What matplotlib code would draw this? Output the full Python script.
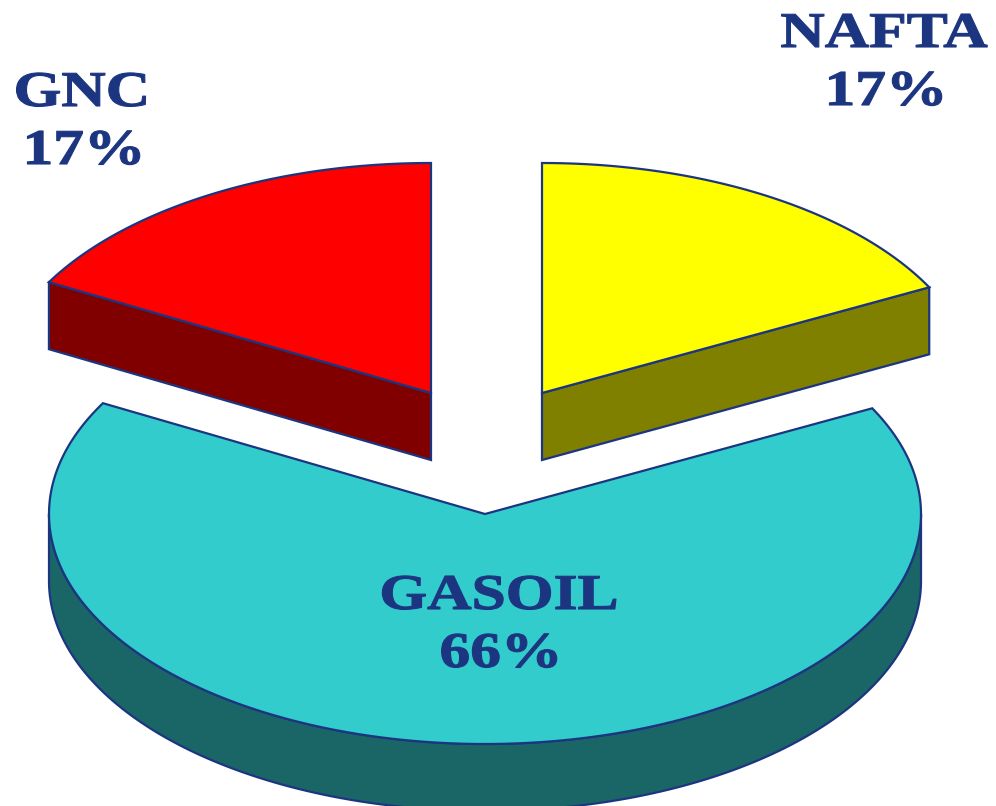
import numpy as np
import matplotlib
matplotlib.use("Agg")
import matplotlib.pyplot as plt
from matplotlib.patches import Polygon
from matplotlib.patheffects import AbstractPathEffect
from matplotlib.transforms import Affine2D

# Data
categories = ["NAFTA", "GASOIL", "GNC"]
shares = [17.4, 65.6, 17.0]

# Style
top_colors = ["#FFFF00", "#33CCCC", "#FF0000"]
side_colors = ["#808000", "#1A6666", "#800000"]
edge = "#1C3580"
centers = [(542, 393), (485, 514), (431, 393)]
label_pos = [(884, 47), (499, 609), (82, 106)]
RX, RY, DEPTH = 436, 230, 67
W, H = 996, 806
WIDEN = 1.23

fig = plt.figure(figsize=(W / 100, H / 100), dpi=100)
ax = fig.add_axes([0, 0, 1, 1])
ax.set_xlim(0, W)
ax.set_ylim(H, 0)
ax.axis("off")


class Widen(AbstractPathEffect):
    """Draw a text's glyphs wider and slightly heavier, about its centre."""

    def __init__(self, cx, sx):
        super().__init__()
        self.cx, self.sx = cx, sx

    def draw_path(self, renderer, gc, tpath, affine, rgbFace=None):
        stretch = Affine2D().translate(-self.cx, 0).scale(self.sx, 1).translate(self.cx, 0)
        gc0 = renderer.new_gc()
        gc0.copy_properties(gc)
        gc0.set_foreground(edge)
        gc0.set_linewidth(0.8)
        renderer.draw_path(gc0, tpath, affine + stretch, rgbFace)
        gc0.restore()


def arc(cx, cy, a0, a1, dy=0, n=240):
    t = np.radians(np.linspace(a0, a1, n))
    return np.column_stack([cx + RX * np.cos(t), cy - RY * np.sin(t) + dy])


def draw_large(c, a_start, a_end, top, side):
    """Front slice: the outer rim on the lower half is the visible side."""
    cx, cy = c
    apex = np.array([[cx, cy]])
    rim = arc(cx, cy, 0, -180)
    ax.add_patch(Polygon(np.vstack([rim, arc(cx, cy, -180, 0, DEPTH)]),
                         closed=True, fc=side, ec=edge, lw=1.6, zorder=2))
    ax.add_patch(Polygon(np.vstack([apex, arc(cx, cy, a_start, a_end)]),
                         closed=True, fc=top, ec=edge, lw=1.6, zorder=3))


def draw_small(c, a_from, a_to, top, side):
    """Upper slice: the straight cut towards the rim is the visible side."""
    cx, cy = c
    apex = np.array([[cx, cy]])
    p = arc(cx, cy, a_to, a_to, n=1)
    quad = np.vstack([apex, p, p + [0, DEPTH], apex + [0, DEPTH]])
    ax.add_patch(Polygon(quad, closed=True, fc=side, ec=edge, lw=1.6, zorder=2))
    ax.add_patch(Polygon(np.vstack([apex, arc(cx, cy, a_from, a_to)]),
                         closed=True, fc=top, ec=edge, lw=1.6, zorder=3))


# Angles run clockwise from the top of the pie
sweep = [s / sum(shares) * 360 for s in shares]
a0 = 90
a1 = a0 - sweep[0]
a2 = a1 - sweep[1]
a3 = a2 - sweep[2]

draw_small(centers[0], a0, a1, top_colors[0], side_colors[0])
draw_large(centers[1], a1, a2, top_colors[1], side_colors[1])
draw_small(centers[2], a3 + 360, a2 + 360, top_colors[2], side_colors[2])

for name, val, (x, y) in zip(categories, shares, label_pos):
    for i, line in enumerate([name, f"{round(val)}%"]):
        tx = x + (2 if i else 0)
        ax.text(tx, y + i * 58, line, ha="center", va="baseline",
                family="Liberation Serif", weight="bold", fontsize=36,
                color=edge, zorder=5, path_effects=[Widen(tx, WIDEN)])

fig.savefig("out.png", dpi=100)
